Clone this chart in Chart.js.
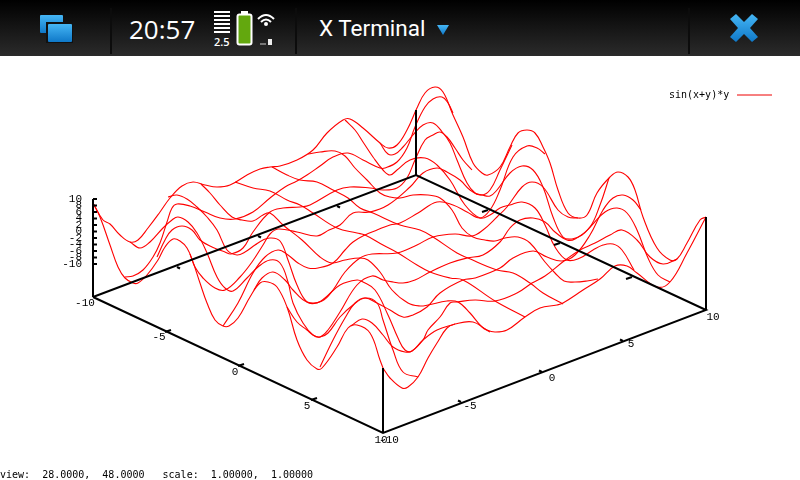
<!DOCTYPE html>
<html lang="en">
<head>
<meta charset="utf-8">
<script src="https://cdn.jsdelivr.net/npm/chart.js@4/dist/chart.umd.min.js"></script>
<style>
    body { margin: 0; background: #fff; overflow: hidden; }
    #wrap { position: relative; width: 800px; height: 480px; }
    #bar { position: absolute; left: 0; top: 0; width: 800px; height: 56px; background: linear-gradient(#000, #2b2b2b); color: #fff; }
    #bar .txt { position: absolute; font-family: "Open Sans", sans-serif; white-space: nowrap; }
    #bar .sep { position: absolute; top: 8px; width: 2px; height: 46px; background: #0c0c0c; }
    #bar svg { position: absolute; left: 0; top: 0; }
    canvas { position: absolute; left: 0; top: 0; }
</style>
</head>
<body>
<div id="wrap">
    <canvas id="content" width="800" height="480"></canvas>
    <div id="bar">
        <div class="sep" style="left:110px"></div>
        <div class="sep" style="left:295px"></div>
        <div class="sep" style="left:688px"></div>
        <svg width="800" height="56">
            <defs><linearGradient id="blue" x1="0" y1="0" x2="0" y2="1"><stop offset="0" stop-color="#45b6f5"/><stop offset="1" stop-color="#0f78c8"/></linearGradient></defs>
            <rect x="40" y="15" width="23" height="18" rx="1" fill="url(#blue)"/>
            <rect x="46" y="22" width="27" height="21" fill="#111"/>
            <rect x="48" y="24" width="24" height="18" rx="1" fill="url(#blue)"/>
            <g fill="#fff">
                <rect x="214" y="11" width="16" height="2"/><rect x="214" y="15" width="16" height="2"/><rect x="214" y="19" width="16" height="2"/>
                <rect x="214" y="23" width="16" height="2"/><rect x="214" y="27" width="16" height="2"/><rect x="214" y="31" width="16" height="2"/>
            </g>
            <rect x="237.5" y="14.5" width="14" height="30" rx="2" fill="#63a80e" stroke="#fff" stroke-width="2"/>
            <rect x="241" y="11" width="7" height="3" fill="#fff"/>
            <g fill="none" stroke="#fff" stroke-width="2">
                <path d="M258 19 Q266 11 274 19"/><path d="M261 22 Q266 17 271 22"/>
            </g>
            <circle cx="266" cy="24" r="2" fill="#fff"/>
            <rect x="260" y="43" width="6" height="2" fill="#777"/><rect x="268" y="39" width="4" height="6" fill="#eee"/>
            <polygon points="437,25 449,25 443,35" fill="url(#blue)"/>
            <polygon points="730,19 736,14 744,22 752,14 758,19 750,28 758,37 752,42 744,34 736,42 730,37 738,28" fill="url(#blue)"/>
        </svg>
        <div class="txt" style="left:129px;top:11px;font-size:26px">20:57</div>
        <div class="txt" style="left:214px;top:34px;font-size:11px;font-weight:600">2.5</div>
        <div class="txt" style="left:319px;top:15px;font-size:22.5px;font-family:Roboto">X Terminal</div>
    </div>
</div>
<script>
    // page pixels (scales below run 0-800 and 0-480)
    var row1 = [[93,203],[100,217],[110,245],[118,267],[125,278],[133,283],[138,283],[147,275],[158,260],[165,247],[173,239],[180,241],[187,248],[193,262],[200,283],[207,303],[215,320],[223,326],[229,326],[238,318],[250,297],[260,283],[268,282],[277,287],[287,307],[297,340],[307,360],[317,369],[322,368],[337,347],[348,328],[357,325],[370,333],[380,360],[383,368]];
    var row2 = [[130,242],[140,248],[150,242],[163,228],[172,220],[178,217],[188,222],[197,233],[207,253],[217,277],[225,288],[233,291],[247,278],[258,267],[270,260],[280,263],[288,282],[293,303],[303,323],[313,335],[320,337],[328,333],[340,317],[353,305],[365,298],[377,303],[383,320],[393,350],[403,372],[418,377]];
    var row3 = [[168,197],[177,195],[187,199],[197,207],[207,217],[217,230],[227,250],[237,255],[245,252],[255,245],[263,240],[270,238],[280,241],[288,260],[297,285],[307,302],[317,303],[325,298],[340,285],[357,280],[363,282],[375,290],[388,315],[398,338],[405,350],[412,351],[423,340],[437,330],[455,324]];
    var row4 = [[201,184],[210,193],[220,205],[232,217],[242,220],[253,221],[263,215],[270,213],[283,225],[302,240],[320,257],[332,263],[345,260],[360,258],[368,260],[380,272],[392,290],[408,303],[420,306],[428,305],[447,301],[458,302],[470,313],[482,327],[490,332]];
    var row5 = [[235,182],[253,188],[270,191],[287,200],[300,205],[313,213],[337,228],[357,233],[365,235],[383,245],[398,253],[417,265],[430,272],[450,278],[463,280],[495,301],[525,317]];
    var row6 = [[272,167],[287,175],[300,180],[317,182],[333,190],[348,198],[360,208],[373,213],[400,225],[420,230],[433,237],[457,253],[468,258],[497,270],[513,273],[530,283],[543,293],[563,304]];
    var row7 = [[308,154],[320,152],[335,151],[345,156],[355,168],[367,180],[380,193],[390,197],[400,198],[413,195],[428,195],[440,198],[452,210],[462,228],[473,237],[485,240],[495,241],[505,238],[518,237],[530,243],[545,262],[555,273],[564,281],[575,282],[587,281],[598,279]];
    var row8 = [[345,120],[355,130],[363,142],[373,157],[383,170],[390,175],[397,170],[410,160],[425,158],[437,165],[450,180],[465,205],[480,218],[490,215],[500,208],[510,205],[522,202],[535,208],[545,225],[555,247],[567,260],[580,258],[593,250],[603,245],[613,244],[622,250],[634,270]];
    var row9 = [[380,143],[388,154],[395,154],[403,147],[413,135],[423,125],[433,123],[443,133],[450,143],[457,160],[467,183],[475,193],[482,195],[490,196],[497,190],[510,173],[522,166],[533,170],[543,187],[553,217],[563,237],[572,239],[582,235],[592,225],[605,212],[617,208],[627,213],[637,230],[648,258],[658,275],[670,282]];
    var row10 = [[416,110],[425,93],[435,87],[443,92],[453,115],[463,137],[473,163],[482,173],[488,175],[500,167],[510,147],[518,133],[527,130],[535,133],[543,147],[550,163],[558,190],[568,213],[578,218],[587,215],[597,193],[610,177],[618,172],[628,177],[635,190],[643,217],[657,248],[670,260],[677,259],[687,243],[700,220],[706,217]];

    var col1 = [[93,203],[103,220],[110,224],[120,235],[130,242],[138,240],[148,228],[160,212],[170,198],[182,186],[193,182],[205,185],[217,187],[230,185],[247,175],[260,169],[270,167],[280,166],[297,160],[313,150],[327,133],[343,120],[350,119],[363,128],[380,143],[388,148],[397,145],[407,130],[416,110]];
    var col2 = [[125,277],[133,276],[143,270],[153,257],[160,243],[167,222],[172,208],[177,204],[190,206],[205,212],[220,218],[235,219],[253,212],[270,198],[285,187],[297,181],[307,175],[320,166],[333,157],[348,153],[363,160],[380,168],[385,168],[397,162],[407,148],[415,127],[425,107],[433,99],[442,97],[448,103],[453,113]];
    var col3 = [[157,257],[165,240],[172,230],[182,226],[192,230],[200,240],[212,247],[225,252],[231,254],[243,248],[253,232],[270,212],[283,208],[300,207],[310,205],[337,190],[350,187],[370,188],[383,190],[397,188],[407,178],[415,160],[425,140],[433,135],[440,132],[447,137],[455,148],[463,160],[472,170]];
    var col4 = [[190,254],[195,267],[203,278],[215,288],[225,290],[240,277],[252,262],[263,245],[270,234],[278,229],[297,232],[317,236],[329,230],[340,225],[353,213],[370,212],[388,205],[410,187],[423,173],[437,168],[447,172],[460,180],[470,190],[481,195],[490,190],[500,170],[512,145]];
    var col5 = [[223,326],[238,303],[253,273],[265,257],[278,250],[288,255],[298,263],[308,268],[318,268],[333,263],[345,250],[353,242],[365,235],[377,230],[390,225],[400,223],[418,213],[437,202],[453,205],[467,212],[480,218],[490,210],[500,190],[513,157],[527,146],[537,148],[545,154]];
    var col6 = [[254,290],[262,278],[273,272],[285,280],[293,290],[307,302],[322,301],[333,290],[345,272],[360,258],[372,254],[397,253],[417,245],[433,237],[455,234],[472,236],[483,230],[497,217],[507,207],[522,187],[532,182],[543,187],[558,210],[568,217],[578,218]];
    var col7 = [[287,307],[297,322],[307,330],[313,335],[320,337],[328,330],[340,312],[357,285],[372,276],[383,280],[393,282],[403,283],[415,280],[430,272],[450,263],[467,258],[483,255],[500,242],[510,228],[520,220],[533,218],[545,222],[555,232],[567,240],[575,239],[590,227],[600,205],[609,178]];
    var col8 = [[320,367],[333,340],[345,318],[355,303],[365,298],[377,303],[390,310],[403,317],[413,315],[427,307],[440,293],[463,280],[475,278],[500,268],[513,258],[533,251],[547,257],[562,261],[575,255],[590,235],[603,210],[613,198],[623,195],[633,200],[641,210]];
    var col9 = [[351,326],[362,319],[372,323],[383,335],[393,347],[405,352],[412,351],[423,340],[428,330],[440,317],[450,303],[457,302],[475,300],[495,301],[517,293],[532,283],[545,276],[564,261],[580,250],[595,243],[610,235],[622,230],[637,240],[650,257],[663,264],[677,259]];
    var col10 = [[383,368],[390,378],[402,388],[408,387],[418,377],[428,358],[437,343],[447,328],[455,324],[473,322],[487,330],[495,332],[507,330],[525,317],[540,308],[557,305],[563,303],[583,290],[600,279],[615,266],[627,266],[637,273],[657,287],[670,282],[687,253],[706,217]];

    var rows = [row1, row2, row3, row4, row5, row6, row7, row8, row9, row10];
    var cols = [col1, col2, col3, col4, col5, col6, col7, col8, col9, col10];

    var boxBase = [[93,297],[383,433],[706,310],[416,175],[93,297]];
    var boxPosts = [[[93,199],[93,297]], [[383,368],[383,433]], [[706,217],[706,310]], [[416,110],[416,175]]];
    var zTickY = [199,205.5,212,218.5,225,231.5,238,244.5,251,257.5,264];
    var zTickLabels = ["10","8","6","4","2","0","-2","-4","-6","-8","-10"];
    var tickMarks = [
        [[165,332],[171,330]], [[238,366],[244,364]], [[311,400],[317,398]],
        [[461,402],[458,400.5]], [[542,372],[539,370.5]], [[623,341],[620,339.5]],
        [[488,210],[482,212]], [[560,243],[554,245]], [[632,277],[626,279]],
        [[177,267],[180,268.5]], [[258,236],[261,237.5]], [[337,206],[340,207.5]]
    ];
    var tickLabels = [
        ["-10",85,303], ["-5",159,337], ["0",235,372], ["5",307,406], ["10",381,440],
        ["-10",389,440], ["-5",470,406], ["0",552,378], ["5",631,344], ["10",713,317]
    ];
    var legendLabel = "sin(x+y)*y";
    var legendLine = [[737,95],[772,95]];
    var statusLine = "view:  28.0000,  48.0000   scale:  1.00000,  1.00000";

    function toPoints(list) {
        return list.map(function (p) { return {x: p[0], y: p[1]}; });
    }

    var datasets = [];
    // black first so it ends up on top of the red
    datasets.push({data: toPoints(boxBase), borderColor: "#000", borderWidth: 2, tension: 0});
    boxPosts.forEach(function (s) { datasets.push({data: toPoints(s), borderColor: "#000", borderWidth: 2, tension: 0}); });
    tickMarks.forEach(function (s) { datasets.push({data: toPoints(s), borderColor: "#000", borderWidth: 2, tension: 0}); });
    zTickY.forEach(function (y) { datasets.push({data: [{x: 93, y: y}, {x: 97, y: y}], borderColor: "#000", borderWidth: 2, tension: 0}); });
    rows.concat(cols).forEach(function (line) {
        datasets.push({data: toPoints(line), borderColor: "#f00", borderWidth: 1.1, tension: 0.4});
    });
    datasets.push({data: toPoints(legendLine), borderColor: "#e00", borderWidth: 1, tension: 0});

    var textPlugin = {
        id: "plotText",
        afterDatasetsDraw: function (chart) {
            var c = chart.ctx, sx = chart.scales.x, sy = chart.scales.y;
            c.save();
            c.fillStyle = "#000";
            c.font = "11px 'Liberation Mono'";
            c.textBaseline = "middle";
            c.textAlign = "right";
            zTickLabels.forEach(function (t, i) { c.fillText(t, sx.getPixelForValue(82), sy.getPixelForValue(zTickY[i])); });
            c.textAlign = "center";
            tickLabels.forEach(function (t) { c.fillText(t[0], sx.getPixelForValue(t[1]), sy.getPixelForValue(t[2])); });
            c.font = "10px 'DejaVu Sans Mono'";
            c.textAlign = "left";
            c.fillText(legendLabel, sx.getPixelForValue(669), sy.getPixelForValue(95));
            c.fillText(statusLine, sx.getPixelForValue(0), sy.getPixelForValue(475));
            c.restore();
        }
    };

    new Chart(document.getElementById("content").getContext("2d"), {
        type: "scatter",
        data: {datasets: datasets},
        plugins: [textPlugin],
        options: {
            responsive: false,
            animation: false,
            devicePixelRatio: 1,
            layout: {padding: 0},
            showLine: true,
            elements: {point: {radius: 0}},
            plugins: {legend: {display: false}, tooltip: {enabled: false}},
            scales: {
                x: {type: "linear", min: 0, max: 800, display: false},
                y: {type: "linear", min: 0, max: 480, reverse: true, display: false}
            }
        }
    });
</script>
</body>
</html>
